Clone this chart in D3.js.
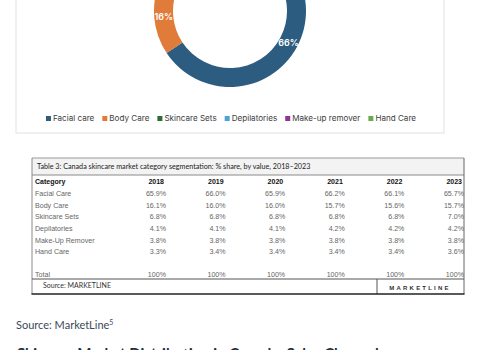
<!DOCTYPE html>
<html><head><meta charset="utf-8">
<script src="https://cdn.jsdelivr.net/npm/d3@7"></script>
<style>html,body{margin:0;padding:0;background:#fff;overflow:hidden}svg{display:block}</style>
</head><body>
<svg id="c" width="500" height="350"></svg>
<script>
// ---- Donut data (2023 shares) ----
const donutLabels = ["Facial care","Body Care","Skincare Sets","Depilatories","Make-up remover","Hand Care"];
const donutValues = [65.7, 15.7, 7.0, 4.2, 3.8, 3.6];
const donutColors = ["#2c5c80","#e07b3a","#2f6b36","#4da3d6","#8f3595","#6aa94e"];

// ---- Table data ----
const tableTitle = "Table 3: Canada skincare market category segmentation: % share, by value, 2018\u20132023";
const categories = ["Facial Care","Body Care","Skincare Sets","Depilatories","Make-Up Remover","Hand Care"];
const years = ["2018","2019","2020","2021","2022","2023"];
const share2018 = ["65.9%","16.1%","6.8%","4.1%","3.8%","3.3%"];
const share2019 = ["66.0%","16.0%","6.8%","4.1%","3.8%","3.4%"];
const share2020 = ["65.9%","16.0%","6.8%","4.1%","3.8%","3.4%"];
const share2021 = ["66.2%","15.7%","6.8%","4.2%","3.8%","3.4%"];
const share2022 = ["66.1%","15.6%","6.8%","4.2%","3.8%","3.4%"];
const share2023 = ["65.7%","15.7%","7.0%","4.2%","3.8%","3.6%"];
const totals = ["100%","100%","100%","100%","100%","100%"];
const sharesByYear = [share2018, share2019, share2020, share2021, share2022, share2023];

const svg = d3.select("#c");

// ---- Chart frame ----
svg.append("rect").attr("x",16).attr("y",-10).attr("width",428).attr("height",143)
  .attr("fill","#fff").attr("stroke","#dde3e8").attr("stroke-width",1);

// ---- Donut ----
const pie = d3.pie().sort(null).value(d => d);
const arc = d3.arc().innerRadius(57).outerRadius(76);
const g = svg.append("g").attr("transform","translate(230,11)");
const arcs = pie(donutValues);
g.selectAll("path").data(arcs).join("path")
  .attr("d", arc).attr("fill",(d,i)=>donutColors[i]);
g.selectAll("text").data(arcs).join("text")
  .attr("transform", d => `translate(${arc.centroid(d)})`)
  .attr("text-anchor","middle").attr("dy","0.35em")
  .attr("fill","#fff").attr("font-family","Inter, 'Noto Sans', sans-serif")
  .attr("font-size",9).attr("font-weight",600)
  .text(d => d3.format(".0f")(d.data) + "%");

// ---- Legend ----
const lg = svg.append("g");
let lx = 0;
donutLabels.forEach((lab,i) => {
  const item = lg.append("g").attr("transform",`translate(${lx},0)`);
  item.append("rect").attr("x",0).attr("y",-2.5).attr("width",5).attr("height",5).attr("fill",donutColors[i]);
  const t = item.append("text").attr("x",7).attr("dy","0.35em")
    .attr("font-family","Inter, 'Noto Sans', sans-serif").attr("font-size",8.1).attr("fill","#404040").text(lab);
  lx += 7 + t.node().getComputedTextLength() + 8;
});
const lw = lx - 8;
lg.attr("transform",`translate(${231 - lw/2},118.5)`);

// ---- Table ----
const tLeft = 32, tRight = 464, tTop = 158, tBottom = 294;
svg.append("rect").attr("x",tLeft).attr("y",tTop).attr("width",tRight-tLeft).attr("height",17)
  .attr("fill","#f3f3f3");
svg.append("line").attr("x1",tLeft).attr("x2",tRight).attr("y1",tTop).attr("y2",tTop).attr("stroke","#9a9a9a");
svg.append("line").attr("x1",tLeft).attr("x2",tRight).attr("y1",175).attr("y2",175).attr("stroke","#8a8a8a");
svg.append("line").attr("x1",tLeft).attr("x2",tLeft).attr("y1",tTop).attr("y2",tBottom).attr("stroke","#8a8a8a");
svg.append("line").attr("x1",tRight).attr("x2",tRight).attr("y1",tTop).attr("y2",tBottom).attr("stroke","#666");
svg.append("line").attr("x1",tLeft).attr("x2",tRight).attr("y1",279).attr("y2",279).attr("stroke","#555");
svg.append("line").attr("x1",377).attr("x2",377).attr("y1",279).attr("y2",tBottom).attr("stroke","#555");
svg.append("line").attr("x1",tLeft-0.5).attr("x2",tRight+0.5).attr("y1",tBottom).attr("y2",tBottom).attr("stroke","#222").attr("stroke-width",1.6);

svg.append("text").attr("x",37).attr("y",166.5).attr("dy","0.35em")
  .attr("font-family","Lato, 'Open Sans', sans-serif").attr("font-size",7.2).attr("fill","#222")
  .text(tableTitle);

const rowKeys = ["header", ...categories, "blank", "Total"];
const yRow = d3.scalePoint().domain(rowKeys).range([182, 275]);
const xCol = d3.scalePoint().domain(years).range([166, 464]);
const tf = "'Liberation Sans', Arial, sans-serif";

svg.append("text").attr("x",35).attr("y",yRow("header")).attr("dy","0.35em")
  .attr("font-family",tf).attr("font-size",7).attr("font-weight","bold").attr("fill","#111").text("Category");
svg.selectAll("text.yr").data(years).join("text").attr("class","yr")
  .attr("x",d=>xCol(d)-2).attr("y",yRow("header")).attr("dy","0.35em").attr("text-anchor","end")
  .attr("font-family",tf).attr("font-size",7).attr("font-weight","bold").attr("fill","#111").text(d=>d);

categories.forEach((cat,r) => {
  svg.append("text").attr("x",35).attr("y",yRow(cat)).attr("dy","0.35em")
    .attr("font-family",tf).attr("font-size",7.1).attr("fill","#666").text(cat);
  years.forEach((yr,c) => {
    svg.append("text").attr("x",xCol(yr)).attr("y",yRow(cat)).attr("dy","0.35em").attr("text-anchor","end")
      .attr("font-family",tf).attr("font-size",7.1).attr("fill","#666").text(sharesByYear[c][r]);
  });
});
svg.append("text").attr("x",35).attr("y",yRow("Total")).attr("dy","0.35em")
  .attr("font-family",tf).attr("font-size",7.1).attr("fill","#666").text("Total");
years.forEach((yr,c) => {
  svg.append("text").attr("x",xCol(yr)).attr("y",yRow("Total")).attr("dy","0.35em").attr("text-anchor","end")
    .attr("font-family",tf).attr("font-size",7.1).attr("fill","#666").text(totals[c]);
});

svg.append("text").attr("x",43).attr("y",285.8).attr("dy","0.35em")
  .attr("font-family","Lato, sans-serif").attr("font-size",7).attr("fill","#333").text("Source: MARKETLINE");
svg.append("text").attr("x",420).attr("y",288).attr("dy","0.35em").attr("text-anchor","middle")
  .attr("font-family",tf).attr("font-size",6).attr("font-weight","bold").attr("letter-spacing",2.2)
  .attr("fill","#333").text("MARKETLINE");

// ---- Below-table text ----
const src = svg.append("text").attr("x",16).attr("y",328.5)
  .attr("font-family","Lato, sans-serif").attr("font-size",11).attr("fill","#3b4a5a");
src.append("tspan").text("Source: MarketLine");
src.append("tspan").attr("font-size",7).attr("dy",-4).text("5");

svg.append("text").attr("x",17).attr("y",359)
  .attr("font-family","Lato, sans-serif").attr("font-size",15).attr("font-weight","bold").attr("fill","#1f2d3d")
  .text("Skincare Market Distribution in Canada: Sales Channels");
</script>
</body></html>
